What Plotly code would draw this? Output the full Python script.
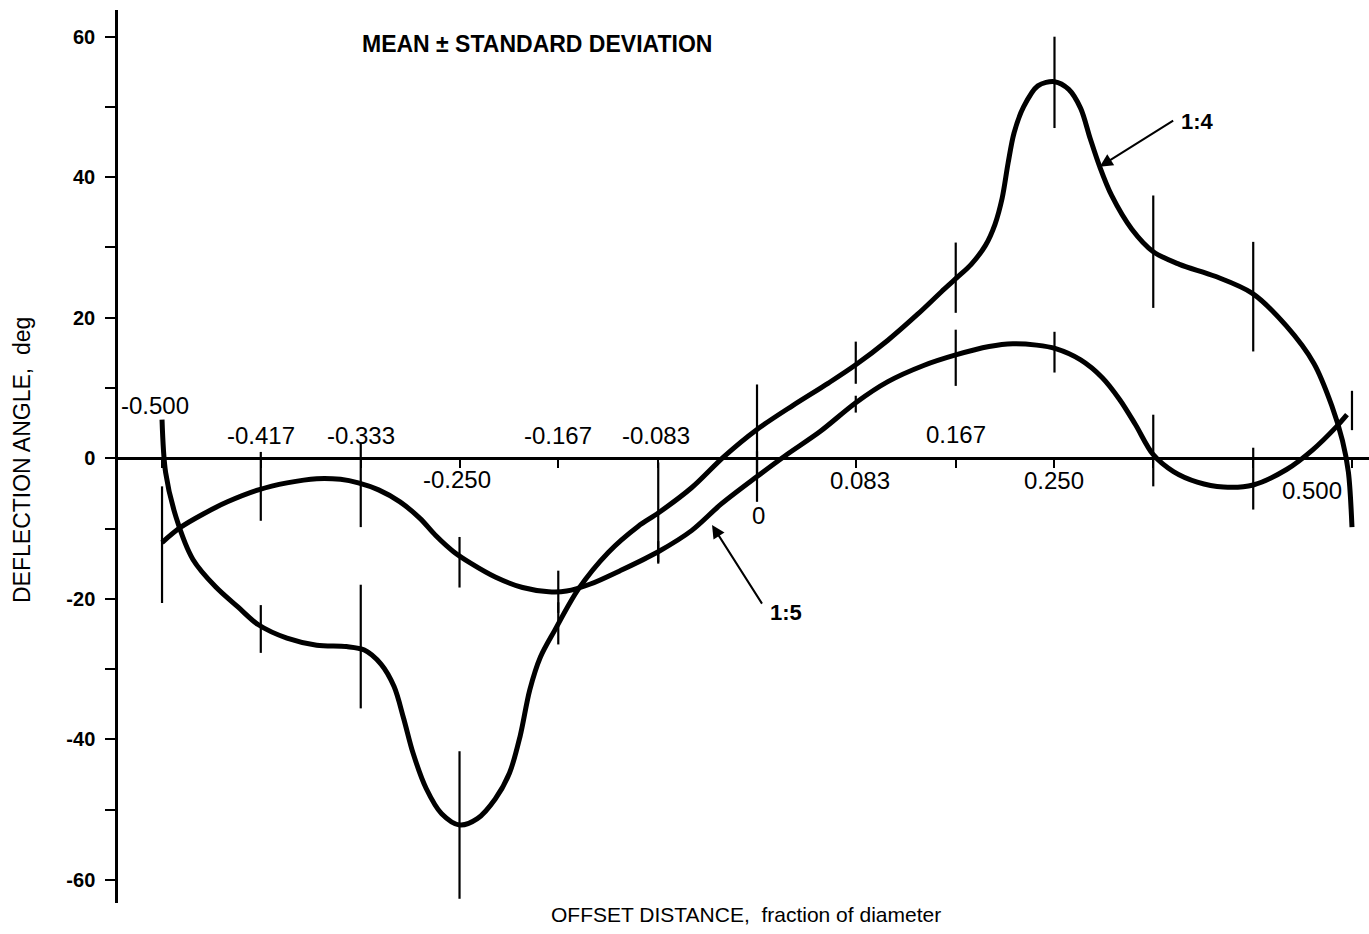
import plotly.graph_objects as go

# ---------------- data ----------------
stations = [-0.5, -0.417, -0.333, -0.25, -0.167, -0.083, 0.0, 0.083, 0.167, 0.25, 0.333, 0.417, 0.5]
station_labels = ["-0.500", "-0.417", "-0.333", "-0.250", "-0.167", "-0.083", "0",
                  "0.083", "0.167", "0.250", "", "", "0.500"]

# ratio 1:4 — mean and standard deviation at stations (no bars at the two ends)
r14_bar_x = [-0.417, -0.333, -0.25, -0.167, -0.083, 0.0, 0.083, 0.167, 0.25, 0.333, 0.417]
r14_mean = [-24.3, -26.8, -52.2, -23.5, -7.8, 4.1, 13.6, 25.7, 53.5, 29.4, 23.0]
r14_sd = [3.4, 8.8, 10.5, 3.0, 7.2, 6.4, 3.0, 5.0, 6.5, 8.0, 7.8]

# ratio 1:5 — mean and standard deviation at stations
r15_bar_x = stations
r15_mean = [-12.3, -4.0, -3.8, -14.8, -19.0, -13.3, -2.6, 7.7, 14.3, 15.1, 1.1, -2.9, 6.8]
r15_sd = [8.3, 4.9, 6.0, 3.6, 3.0, 1.5, 3.6, 1.2, 4.0, 2.9, 5.1, 4.4, 2.8]

# faired curves
r14_curve_x = [-0.500, -0.497, -0.488, -0.474, -0.455, -0.436, -0.419, -0.395, -0.370, -0.345,
               -0.330, -0.316, -0.305, -0.297, -0.289, -0.278, -0.265, -0.250, -0.235, -0.220,
               -0.208, -0.199, -0.191, -0.182, -0.170, -0.150, -0.125, -0.100, -0.083, -0.055,
               -0.028, 0.000, 0.030, 0.060, 0.083, 0.110, 0.135, 0.155, 0.168, 0.180,
               0.192, 0.200, 0.206, 0.211, 0.216, 0.224, 0.236, 0.250, 0.262, 0.272,
               0.280, 0.288, 0.298, 0.315, 0.333, 0.355, 0.385, 0.416, 0.445, 0.468,
               0.483, 0.492, 0.497, 0.500]
r14_curve_y = [5.5, -2.0, -8.5, -14.4, -18.3, -21.2, -23.7, -25.6, -26.6, -26.8,
               -27.3, -29.3, -32.5, -37.0, -42.0, -47.0, -50.6, -52.2, -51.3, -48.5,
               -44.8, -39.5, -33.0, -28.3, -24.5, -18.6, -13.4, -9.7, -7.8, -4.2,
               0.2, 4.1, 7.5, 10.7, 13.3, 16.8, 20.5, 23.7, 25.7, 27.6,
               30.3, 33.3, 37.0, 42.0, 46.3, 50.0, 53.0, 53.6, 52.5, 49.8,
               45.5, 41.5, 37.4, 32.6, 29.4, 27.6, 25.9, 23.5, 18.8, 13.5,
               7.5, 2.5, -2.0, -9.8]

r15_curve_x = [-0.500, -0.485, -0.465, -0.445, -0.419, -0.395, -0.370, -0.350, -0.335, -0.318,
               -0.300, -0.283, -0.270, -0.255, -0.240, -0.220, -0.197, -0.175, -0.160, -0.140,
               -0.115, -0.083, -0.055, -0.030, 0.000, 0.024, 0.053, 0.083, 0.110, 0.140,
               0.167, 0.195, 0.215, 0.235, 0.251, 0.272, 0.290, 0.305, 0.318, 0.333,
               0.350, 0.370, 0.392, 0.417, 0.445, 0.467, 0.487, 0.4958]
r15_curve_y = [-12.0, -9.9, -7.9, -6.2, -4.5, -3.5, -2.9, -3.0, -3.5, -4.5,
               -6.2, -8.6, -11.0, -13.3, -15.0, -16.9, -18.4, -19.0, -18.9, -17.9,
               -16.0, -13.3, -10.3, -6.5, -2.6, 0.4, 3.8, 7.9, 10.9, 13.2,
               14.7, 15.9, 16.3, 16.1, 15.6, 14.0, 11.5, 8.3, 4.8, 0.5,
               -1.9, -3.4, -4.1, -3.8, -1.6, 1.2, 4.5, 6.2]

y_tickvals = [-60, -50, -40, -30, -20, -10, 0, 10, 20, 30, 40, 50, 60]
y_ticktext = ["-60", "", "-40", "", "-20", "", "0", "", "20", "", "40", "", "60"]

# ---------------- figure ----------------
FONT = "Liberation Sans"
W, H = 1369, 934
ML, MR, MT, MB = 118, 0, 10, 31
Y_RANGE = [-63.3, 63.8]
X_RANGE = [-0.537, 0.5143]
zero_pos = (0 - Y_RANGE[0]) / (Y_RANGE[1] - Y_RANGE[0])
PLOT_H = H - MT - MB
PLOT_W = W - ML - MR


def paper_x(px):
    return (px - ML) / PLOT_W


def paper_y(py):
    return (H - MB - py) / PLOT_H


fig = go.Figure()

for cx, cy in ((r14_curve_x, r14_curve_y), (r15_curve_x, r15_curve_y)):
    fig.add_trace(go.Scatter(x=cx, y=cy, mode="lines",
                             line=dict(color="black", width=5, shape="spline", smoothing=0.9),
                             hoverinfo="skip", showlegend=False))

for bx, bm, bs in ((r14_bar_x, r14_mean, r14_sd), (r15_bar_x, r15_mean, r15_sd)):
    fig.add_trace(go.Scatter(x=bx, y=bm, mode="markers",
                             marker=dict(size=1, color="rgba(0,0,0,0)"),
                             error_y=dict(type="data", array=bs, visible=True, width=0,
                                          thickness=2.2, color="black"),
                             hoverinfo="skip", showlegend=False))

# tick-label placement (pixel offsets from the station on the zero line)
label_offsets = {
    "-0.500": (-7, 53), "-0.417": (0, 23), "-0.333": (0, 23), "-0.250": (-3, -21),
    "-0.167": (0, 23), "-0.083": (-2, 23), "0": (1, -57), "0.083": (4, -22),
    "0.167": (0, 24), "0.250": (0, -22), "0.500": (-40, -32),
}
annotations = []
for sx, lab in zip(stations, station_labels):
    if not lab:
        continue
    dx, dy = label_offsets[lab]
    annotations.append(dict(x=sx, y=0, xref="x", yref="y", text=lab, showarrow=False,
                            xanchor="center", yanchor="middle",
                            xshift=dx, yshift=dy, font=dict(family=FONT, size=24, color="black")))

annotations += [
    dict(x=paper_x(537), y=paper_y(44), xref="paper", yref="paper",
         xanchor="center", yanchor="middle",
         text="<b>MEAN ± STANDARD DEVIATION</b>", showarrow=False,
         font=dict(family=FONT, size=23, color="black")),
    dict(x=paper_x(746), y=paper_y(914), xref="paper", yref="paper",
         xanchor="center", yanchor="middle",
         text="OFFSET DISTANCE,  fraction of diameter", showarrow=False,
         font=dict(family=FONT, size=21, color="black")),
    dict(x=paper_x(22), y=paper_y(460), xref="paper", yref="paper",
         xanchor="center", yanchor="middle",
         text="DEFLECTION ANGLE,  deg", showarrow=False,
         textangle=-90, font=dict(family=FONT, size=23, color="black")),
    # 1:4 pointer
    dict(x=0.288, y=41.5, xref="x", yref="y", ax=0.351, ay=48.2, axref="x", ayref="y",
         text="", showarrow=True, arrowhead=2, arrowsize=1.3, arrowwidth=2, arrowcolor="black"),
    dict(x=0.370, y=47.9, xref="x", yref="y", text="<b>1:4</b>", showarrow=False,
         xanchor="center", yanchor="middle",
         font=dict(family=FONT, size=22, color="black")),
    # 1:5 pointer
    dict(x=-0.0378, y=-9.5, xref="x", yref="y", ax=0.005, ay=-20.9, axref="x", ayref="y",
         text="", showarrow=True, arrowhead=2, arrowsize=1.3, arrowwidth=2, arrowcolor="black"),
    dict(x=0.024, y=-22.0, xref="x", yref="y", text="<b>1:5</b>", showarrow=False,
         xanchor="center", yanchor="middle",
         font=dict(family=FONT, size=22, color="black")),
]

fig.update_layout(
    width=W, height=H,
    margin=dict(l=ML, r=MR, t=MT, b=MB, pad=0),
    plot_bgcolor="white", paper_bgcolor="white",
    showlegend=False,
    annotations=annotations,
    xaxis=dict(range=X_RANGE, anchor="free", position=zero_pos, showline=True,
               linecolor="black", linewidth=2.5, tickvals=stations, ticks="outside",
               ticklen=8, tickwidth=2, tickcolor="black", showticklabels=False,
               showgrid=False, zeroline=False),
    xaxis2=dict(range=X_RANGE, overlaying="x", matches="x", anchor="free", position=zero_pos,
                showline=False, tickvals=stations, ticks="inside", ticklen=8, tickwidth=2,
                tickcolor="black", showticklabels=False, showgrid=False, zeroline=False),
    yaxis=dict(range=Y_RANGE, showline=True, linecolor="black", linewidth=2.5,
               tickvals=y_tickvals, ticktext=y_ticktext, ticks="outside", ticklen=10,
               tickwidth=2, tickcolor="black", showgrid=False, zeroline=False,
               tickfont=dict(family=FONT, size=20, color="black", weight="bold"),
               ticklabelstandoff=6),
)

fig.write_html("out.html", config={"displayModeBar": False},
               post_script="document.body.style.margin='0';")
